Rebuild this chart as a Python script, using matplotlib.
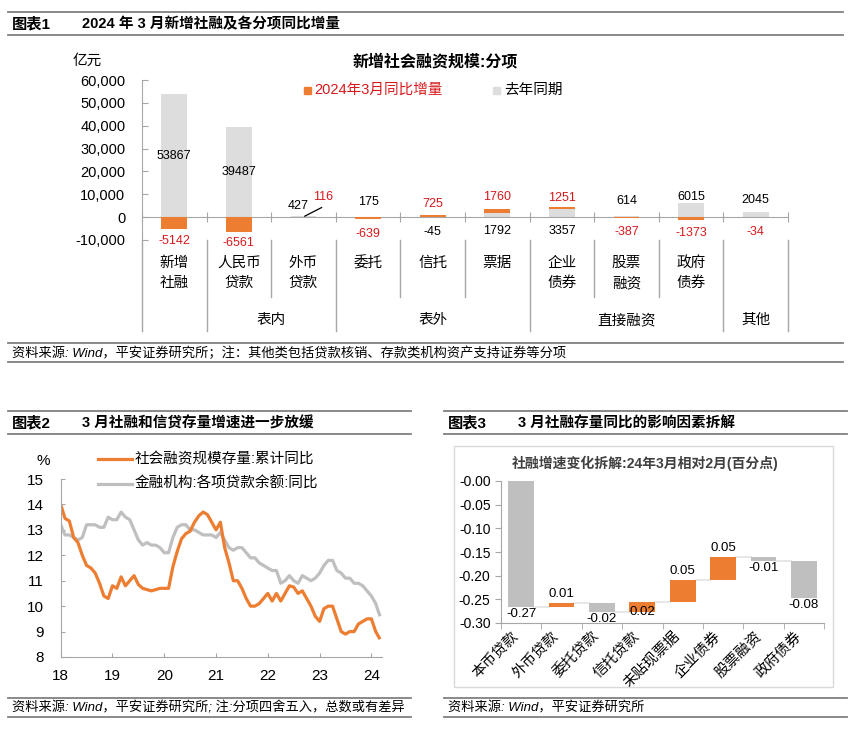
import numpy as np
import matplotlib
matplotlib.use("Agg")
import matplotlib.pyplot as plt
from matplotlib.lines import Line2D
from matplotlib.patches import Rectangle
from matplotlib.transforms import blended_transform_factory

plt.rcParams['font.family'] = ['Liberation Sans', 'Noto Sans CJK SC']
plt.rcParams['axes.unicode_minus'] = False

# ---- chart 1 data: new TSF by component (100m yuan) ----
cat1 = ['新增\n社融', '人民币\n贷款', '外币\n贷款', '委托', '信托', '票据',
        '企业\n债券', '股票\n融资', '政府\n债券', '']
prev_year = [53867, 39487, 427, 175, -45, 1792, 3357, 614, 6015, 2045]
yoy_chg = [-5142, -6561, 116, -639, 725, 1760, 1251, -387, -1373, -34]
groups = ['', '表内', '表外', '直接融资', '其他']
group_bounds = [0, 1, 3, 6, 9, 10]

# ---- chart 2 data: monthly yoy, Jan 2018 - Mar 2024 ----
tsf_yoy = [14.0, 13.45, 13.35, 12.7, 12.5, 12.0, 11.6, 11.5, 11.3, 10.9, 10.4, 10.3,
           10.8, 10.7, 11.15, 10.8, 11.0, 11.2, 10.85, 10.7, 10.65, 10.6, 10.65, 10.7,
           10.7, 10.7, 11.55, 12.15, 12.65, 12.85, 12.95, 13.3, 13.55, 13.7, 13.6, 13.3,
           13.0, 13.3, 12.3, 11.7, 11.0, 11.0, 10.7, 10.3, 10.0, 10.0, 10.1, 10.3,
           10.5, 10.2, 10.5, 10.2, 10.5, 10.8, 10.75, 10.5, 10.6, 10.3, 10.0, 9.6,
           9.4, 9.9, 10.0, 10.0, 9.5, 9.0, 8.9, 9.0, 9.0, 9.3, 9.4, 9.5,
           9.5, 9.0, 8.7]
loan_yoy = [13.2, 12.8, 12.8, 12.7, 12.6, 12.7, 13.2, 13.2, 13.2, 13.1, 13.1, 13.5,
            13.4, 13.4, 13.7, 13.5, 13.4, 13.0, 12.6, 12.4, 12.5, 12.4, 12.4, 12.3,
            12.1, 12.1, 12.7, 13.1, 13.2, 13.2, 13.0, 13.0, 12.9, 12.8, 12.8, 12.8,
            12.7, 12.9, 12.6, 12.3, 12.2, 12.3, 12.3, 12.1, 11.9, 11.9, 11.7, 11.6,
            11.5, 11.4, 11.4, 10.9, 11.0, 11.2, 11.0, 10.9, 11.2, 11.1, 11.0, 11.1,
            11.3, 11.6, 11.8, 11.8, 11.4, 11.3, 11.1, 11.1, 10.9, 10.9, 10.8, 10.6,
            10.4, 10.1, 9.6]
year_ticks = [2018, 2019, 2020, 2021, 2022, 2023, 2024]
year_labels = ['18', '19', '20', '21', '22', '23', '24']

# ---- chart 3 data: waterfall of TSF growth change (pct pts) ----
cat3 = ['本币贷款', '外币贷款', '委托贷款', '信托贷款', '未贴现票据', '企业债券', '股票融资', '政府债券']
contrib = [-0.266, 0.008, -0.018, 0.021, 0.046, 0.048, -0.008, -0.078]

ORANGE = '#ED7D31'
GRAY1 = '#DDDDDD'
GRAY2 = '#BFBFBF'
RED = '#D7191C'
AXC = '#A6A6A6'

W, H = 855, 730
fig = plt.figure(figsize=(W / 100, H / 100), dpi=100)


def fx(x):
    return x / W


def fy(y):
    return 1 - y / H


def hline(x0, x1, y, lw=1.3, color='#808080'):
    fig.add_artist(Line2D([fx(x0), fx(x1)], [fy(y), fy(y)], lw=lw, color=color))


def header(x0, x1, y_top, num, title):
    hline(x0, x1, y_top)
    hline(x0, x1, y_top + 23)
    fig.text(fx(x0 + 4), fy(y_top + 12.5), num, fontsize=11, fontweight='bold', va='center')
    fig.text(fx(x0 + 74), fy(y_top + 12.5), title, fontsize=10.5, fontweight='bold', va='center')


def footer(x0, x1, y_top, note):
    hline(x0, x1, y_top)
    hline(x0, x1, y_top + 19)
    fig.text(fx(x0 + 4), fy(y_top + 10), note, fontsize=9.5, style='italic', va='center')


# ================= chart 1 =================
header(8, 843, 12, '图表1', '2024 年 3 月新增社融及各分项同比增量')
footer(8, 843, 343, '资料来源: Wind，平安证券研究所；注：其他类包括贷款核销、存款类机构资产支持证券等分项')

ax1 = fig.add_axes([fx(142), fy(240), (788 - 142) / W, 160 / H])
xc = np.arange(len(prev_year)) + 0.5
prev = np.array(prev_year)
chg = np.array(yoy_chg)
ax1.bar(xc, prev, 0.4, color=GRAY1, zorder=2)
ax1.bar(xc, chg, 0.4, bottom=np.where(np.sign(chg) == np.sign(prev), prev, 0),
        color=ORANGE, zorder=3)
ax1.set_xlim(0, 10)
ax1.set_ylim(-10000, 60000)
ax1.set_yticks(range(-10000, 60001, 10000))
ax1.set_yticklabels([f'{v:,}' for v in range(-10000, 60001, 10000)])
ax1.set_xticks(range(11))
ax1.tick_params(axis='x', direction='inout', length=7, color=AXC, labelbottom=False)
ax1.tick_params(axis='y', direction='in', length=4, color=AXC, pad=12, labelsize=10.5)
for s in ['top', 'right']:
    ax1.spines[s].set_visible(False)
ax1.spines['bottom'].set_position(('data', 0))
ax1.spines['bottom'].set_color(AXC)
ax1.spines['left'].set_color(AXC)

# data labels (y positions are layout, in axis units)
prev_lab_y = [26900, 19700, 4900, 6600, -6500, -6100, -6100, 7200, 8800, 7500]
chg_lab_y = [-10500, -11200, 8800, -7400, 5700, 8800, 8400, -6600, -7000, -6600]
for i in range(10):
    dx = -0.08 if i == 2 else 0
    ax1.text(xc[i] + dx, prev_lab_y[i], str(prev_year[i]), ha='center', va='center',
             fontsize=9, color='black', zorder=5)
    if i == 2:
        # leader line from the small bar to its label
        ax1.plot([xc[i] + 0.02, xc[i] + 0.28], [prev_year[i], 4200], color='black', lw=0.9, zorder=5)
        ax1.text(xc[i] + 0.31, chg_lab_y[i], str(yoy_chg[i]), ha='center', va='center',
                 fontsize=9, color=RED, zorder=5)
    else:
        ax1.text(xc[i], chg_lab_y[i], str(yoy_chg[i]), ha='center', va='center',
                 fontsize=9, color=RED, zorder=5)

# multi-level category axis below the plot
tr1 = blended_transform_factory(ax1.transData, ax1.transAxes)


def ya(p):
    return (240 - p) / 160


for b in range(11):
    y_end = ya(331) if b in group_bounds else ya(297)
    ax1.plot([b, b], [0, y_end], color=AXC, lw=1, transform=tr1, clip_on=False)
for i, lab in enumerate(cat1):
    for k, part in enumerate(lab.split('\n')):
        ax1.text(xc[i], ya(263 + 20 * k), part, transform=tr1, ha='center', va='center',
                 fontsize=10.5)
for g, name in enumerate(groups):
    mid = (group_bounds[g] + group_bounds[g + 1]) / 2
    ax1.text(mid, ya(320), name, transform=tr1, ha='center', va='center', fontsize=10.5)

fig.text(fx(87), fy(61), '亿元', fontsize=10.5, ha='center', va='center')
fig.text(fx(435), fy(61), '新增社会融资规模:分项', fontsize=11.5, fontweight='bold',
         ha='center', va='center')
fig.add_artist(Rectangle((fx(304), fy(94)), 7 / W, 7 / H, color=ORANGE))
fig.text(fx(314), fy(90), '2024年3月同比增量', fontsize=10.5, color=RED, va='center')
fig.add_artist(Rectangle((fx(493), fy(94)), 7 / W, 7 / H, color=GRAY1))
fig.text(fx(504), fy(90), '去年同期', fontsize=10.5, va='center')

# ================= chart 2 =================
header(8, 411, 411, '图表2', '3 月社融和信贷存量增速进一步放缓')
footer(8, 411, 698, '资料来源: Wind，平安证券研究所; 注:分项四舍五入，总数或有差异')

ax2 = fig.add_axes([fx(60.7), fy(657), 321.3 / W, 178 / H])
xm = 2018 + np.arange(len(tsf_yoy)) / 12
ax2.plot(xm, loan_yoy, color=GRAY2, lw=2.3, solid_capstyle='butt')
ax2.plot(xm, tsf_yoy, color=ORANGE, lw=2.3, solid_capstyle='butt')
ax2.set_xlim(2018, 2024.205)
ax2.set_ylim(8, 15)
ax2.set_yticks(range(8, 16))
ax2.set_xticks(year_ticks)
ax2.set_xticklabels(year_labels)
ax2.tick_params(direction='in', length=3, color=AXC, labelsize=11)
ax2.tick_params(axis='y', pad=12)
ax2.tick_params(axis='x', pad=9)
for s in ['top', 'right']:
    ax2.spines[s].set_visible(False)
for s in ['left', 'bottom']:
    ax2.spines[s].set_color(AXC)

fig.text(fx(43), fy(461), '%', fontsize=11, ha='center', va='center')
fig.add_artist(Line2D([fx(98), fx(132)], [fy(459), fy(459)], color=ORANGE, lw=2.3))
fig.text(fx(135), fy(459), '社会融资规模存量:累计同比', fontsize=10.5, va='center')
fig.add_artist(Line2D([fx(98), fx(132)], [fy(484), fy(484)], color=GRAY2, lw=2.3))
fig.text(fx(135), fy(484), '金融机构:各项贷款余额:同比', fontsize=10.5, va='center')

# ================= chart 3 =================
header(444, 847, 411, '图表3', '3 月社融存量同比的影响因素拆解')
footer(444, 847, 698, '资料来源: Wind，平安证券研究所')
fig.add_artist(Rectangle((fx(454), fy(687)), (833 - 454) / W, (687 - 446) / H,
                         fill=False, edgecolor='#D9D9D9', lw=1))
fig.text(fx(645), fy(463), '社融增速变化拆解:24年3月相对2月(百分点)', fontsize=10,
         fontweight='bold', ha='center', va='center', color='#404040')

ax3 = fig.add_axes([fx(501), fy(623), 323 / W, 142 / H])
c = np.array(contrib)
end = np.cumsum(c)
start = end - c
x3 = np.arange(len(c))
cols = [ORANGE if v > 0 else GRAY2 for v in c]
ax3.bar(x3, np.abs(c), 0.64, bottom=np.minimum(start, end), color=cols, zorder=3)
for i in range(len(c) - 1):
    ax3.plot([x3[i] + 0.32, x3[i + 1] - 0.32], [end[i], end[i]], color='#E3E3E3', lw=1.2, zorder=2)
lab_pos = ['below', 'above', 'below', 'base', 'above', 'above', 'below', 'below']
for i, v in enumerate(c):
    top, bot = max(start[i], end[i]), min(start[i], end[i])
    txt = f'{v:.2f}'
    if lab_pos[i] == 'above':
        ax3.annotate(txt, (x3[i], top), xytext=(0, 2), textcoords='offset points',
                     ha='center', va='bottom', fontsize=9.5)
    elif lab_pos[i] == 'below':
        ax3.annotate(txt, (x3[i], bot), xytext=(0, -1), textcoords='offset points',
                     ha='center', va='top', fontsize=9.5)
    else:
        ax3.annotate(txt, (x3[i], bot), xytext=(0, 0), textcoords='offset points',
                     ha='center', va='center', fontsize=9.5)
ax3.set_xlim(-0.5, len(c) - 0.5)
ax3.set_ylim(-0.30, 0.0)
ax3.set_yticks(np.arange(-0.30, 0.001, 0.05))
ax3.set_yticklabels([f'{v:.2f}' for v in np.arange(-0.30, 0.001, 0.05)])
ax3.set_xticks(x3)
ax3.set_xticklabels(cat3, rotation=45, ha='right', va='top', fontsize=10.5)
ax3.set_xticks(np.arange(-0.5, len(c)), minor=True)
ax3.tick_params(axis='x', which='major', length=0, pad=4)
ax3.tick_params(axis='x', which='minor', length=4, color=AXC)
ax3.tick_params(axis='y', length=4, color=AXC, labelsize=10)
for s in ['top', 'right']:
    ax3.spines[s].set_visible(False)
for s in ['left', 'bottom']:
    ax3.spines[s].set_color(AXC)

fig.savefig('out.png', dpi=100)
